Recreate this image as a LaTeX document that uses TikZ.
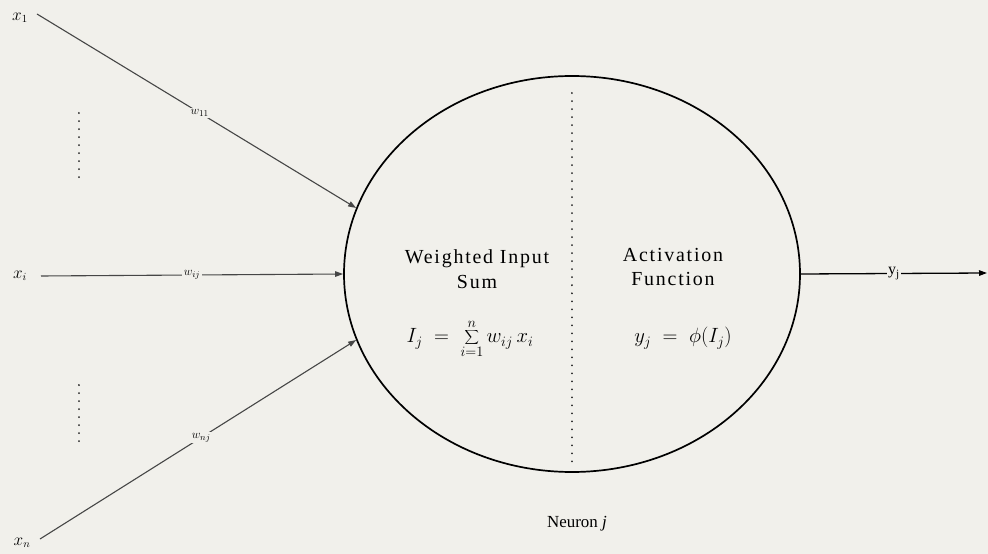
\documentclass[tikz,border=0pt]{standalone}
\usepackage{fontspec}
\setmainfont{Liberation Serif}
\usetikzlibrary{shapes.geometric,arrows.meta}
\definecolor{bg}{RGB}{241,240,235}
\definecolor{ln}{RGB}{70,70,70}
\tikzset{
  conn/.style={draw=ln, line width=1.1bp, -{Triangle[length=8bp,width=5.5bp]}},
  wlab/.style={fill=bg, inner sep=1.5bp, font=\fontsize{13}{15}\selectfont},
  xlab/.style={inner sep=0pt, font=\fontsize{16}{18}\selectfont},
  body/.style={align=center, font=\fontsize{20}{25}\selectfont\addfontfeature{LetterSpace=9}},
  eqn/.style={inner sep=0pt, font=\fontsize{20}{24}\selectfont},
  dotline/.style={line width=2bp, line cap=round, dash pattern=on 0.01bp off 8bp, draw=black!85}
}
\begin{document}
\begin{tikzpicture}[x=1bp,y=-1bp]
\fill[bg] (0,0) rectangle (988,554);
\useasboundingbox (0,0) rectangle (988,554);
\node[ellipse, draw, line width=1.7bp, minimum width=456bp, minimum height=396bp, inner sep=0pt] (N) at (572,274) {};
% inputs
\coordinate (s1) at (37,14);
\coordinate (si) at (41,276);
\coordinate (sn) at (40,539);
\node[xlab] (x1) at (20,18) {$x_{1}$};
\node[xlab] (xi) at (20,276) {$x_{i}$};
\node[xlab] (xn) at (22,543) {$x_{n}$};
\draw[conn] (s1) -- node[wlab, pos=0.51] (w1) {$w_{11}$} (N.163);
\draw[conn] (si) -- node[wlab, pos=0.5] (wi) {$w_{ij}$} (N.west);
\draw[conn] (sn) -- node[wlab, pos=0.51] (wn) {$w_{nj}$} (N.197);
% vertical dots
\coordinate (d1a) at (79,113);
\coordinate (d1b) at (79,178);
\coordinate (d2a) at (79,385);
\coordinate (d2b) at (79,442);
\draw[dotline] (d1a) -- (d1b);
\draw[dotline] (d2a) -- (d2b);
% divider
\coordinate (dt) at (572,93);
\coordinate (db) at (572,466);
\draw[dotline] (dt) -- (db);
% texts
\node[body] (wis) at (477,269) {Weighted Input\\Sum};
\node[body] (af) at (673,267) {Activation\\Function};
\node[eqn, anchor=base] (eq1) at (470,343) {$\displaystyle I_{j} \;=\; \sum_{i=1}^{n} w_{ij}\,x_{i}$};
\node[eqn, anchor=base] (eq2) at (683,343) {$y_{j} \;=\; \phi(I_{j})$};
\node[inner sep=0pt, font=\fontsize{17}{20}\selectfont] (nj) at (577,524) {Neuron \textit{j}};
% output
\coordinate (out) at (987,273);
\draw[conn, draw=black, line width=1.3bp] (N.east) -- node[wlab, pos=0.5, font=\fontsize{16}{18}\selectfont] (yj) {y\textsubscript{j}} (out);
\end{tikzpicture}
\end{document}
